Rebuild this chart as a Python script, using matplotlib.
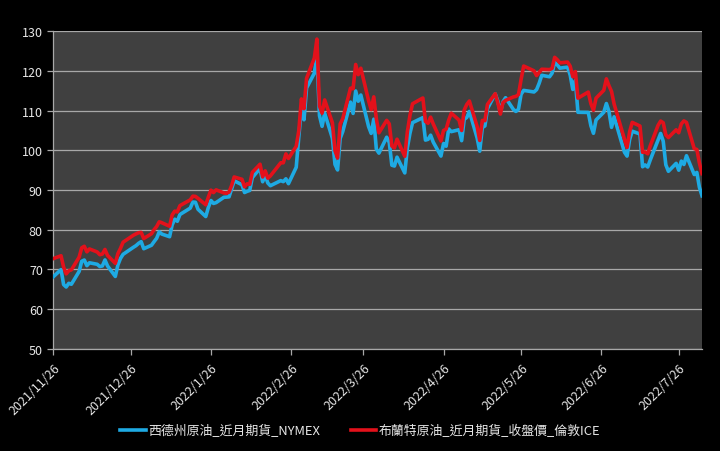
import numpy as np
import pandas as pd
import matplotlib
matplotlib.use("Agg")
import matplotlib.pyplot as plt

plt.rcParams['font.family'] = ['Noto Sans CJK TC', 'DejaVu Sans']

# trading days
dates = [
    "2021-11-26", "2021-11-29", "2021-11-30", "2021-12-01", "2021-12-02", "2021-12-03",
    "2021-12-06", "2021-12-07", "2021-12-08", "2021-12-09", "2021-12-10",
    "2021-12-13", "2021-12-14", "2021-12-15", "2021-12-16", "2021-12-17",
    "2021-12-20", "2021-12-21", "2021-12-22", "2021-12-23",
    "2021-12-27", "2021-12-28", "2021-12-29", "2021-12-30", "2021-12-31",
    "2022-01-03", "2022-01-04", "2022-01-05", "2022-01-06", "2022-01-07",
    "2022-01-10", "2022-01-11", "2022-01-12", "2022-01-13", "2022-01-14",
    "2022-01-18", "2022-01-19", "2022-01-20", "2022-01-21",
    "2022-01-24", "2022-01-25", "2022-01-26", "2022-01-27", "2022-01-28",
    "2022-01-31", "2022-02-01", "2022-02-02", "2022-02-03", "2022-02-04",
    "2022-02-07", "2022-02-08", "2022-02-09", "2022-02-10", "2022-02-11",
    "2022-02-14", "2022-02-15", "2022-02-16", "2022-02-17", "2022-02-18",
    "2022-02-22", "2022-02-23", "2022-02-24", "2022-02-25",
    "2022-02-28", "2022-03-01", "2022-03-02", "2022-03-03", "2022-03-04",
    "2022-03-07", "2022-03-08", "2022-03-09", "2022-03-10", "2022-03-11",
    "2022-03-14", "2022-03-15", "2022-03-16", "2022-03-17", "2022-03-18",
    "2022-03-21", "2022-03-22", "2022-03-23", "2022-03-24", "2022-03-25",
    "2022-03-28", "2022-03-29", "2022-03-30", "2022-03-31", "2022-04-01",
    "2022-04-04", "2022-04-05", "2022-04-06", "2022-04-07", "2022-04-08",
    "2022-04-11", "2022-04-12", "2022-04-13", "2022-04-14",
    "2022-04-18", "2022-04-19", "2022-04-20", "2022-04-21", "2022-04-22",
    "2022-04-25", "2022-04-26", "2022-04-27", "2022-04-28", "2022-04-29",
    "2022-05-02", "2022-05-03", "2022-05-04", "2022-05-05", "2022-05-06",
    "2022-05-09", "2022-05-10", "2022-05-11", "2022-05-12", "2022-05-13",
    "2022-05-16", "2022-05-17", "2022-05-18", "2022-05-19", "2022-05-20",
    "2022-05-23", "2022-05-24", "2022-05-25", "2022-05-26", "2022-05-27",
    "2022-05-31", "2022-06-01", "2022-06-02", "2022-06-03",
    "2022-06-06", "2022-06-07", "2022-06-08", "2022-06-09", "2022-06-10",
    "2022-06-13", "2022-06-14", "2022-06-15", "2022-06-16", "2022-06-17",
    "2022-06-21", "2022-06-22", "2022-06-23", "2022-06-24",
    "2022-06-27", "2022-06-28", "2022-06-29", "2022-06-30", "2022-07-01",
    "2022-07-05", "2022-07-06", "2022-07-07", "2022-07-08",
    "2022-07-11", "2022-07-12", "2022-07-13", "2022-07-14", "2022-07-15",
    "2022-07-18", "2022-07-19", "2022-07-20", "2022-07-21", "2022-07-22",
    "2022-07-25", "2022-07-26", "2022-07-27", "2022-07-28", "2022-07-29",
    "2022-08-01", "2022-08-02", "2022-08-03", "2022-08-04",
]

wti = [
    68.15, 69.95, 66.18, 65.57, 66.50, 66.26,
    69.49, 72.05, 72.36, 70.94, 71.67,
    71.29, 70.73, 70.87, 72.38, 70.86,
    68.23, 71.12, 72.76, 73.79,
    75.57, 75.98, 76.56, 76.99, 75.21,
    76.08, 76.99, 77.85, 79.46, 78.90,
    78.23, 81.22, 82.64, 82.12, 83.82,
    85.43, 86.96, 86.90, 85.14,
    83.31, 85.60, 87.35, 86.61, 86.82,
    88.15, 88.20, 88.26, 90.27, 92.31,
    91.32, 89.36, 89.66, 89.88, 93.10,
    95.46, 92.07, 93.66, 91.76, 91.07,
    92.35, 92.10, 92.81, 91.59,
    95.72, 103.41, 110.60, 107.67, 115.68,
    119.40, 123.70, 108.70, 106.02, 109.33,
    103.01, 96.44, 95.04, 102.98, 104.70,
    112.12, 109.27, 114.93, 112.34, 113.90,
    105.96, 104.24, 107.82, 100.28, 99.27,
    103.28, 101.96, 96.23, 96.03, 98.26,
    94.29, 100.60, 104.25, 106.95,
    108.21, 102.56, 102.75, 103.79, 102.07,
    98.54, 101.70, 101.02, 105.36, 104.69,
    105.17, 102.41, 107.81, 108.26, 109.77,
    103.09, 99.76, 105.71, 106.13, 110.49,
    114.20, 112.40, 109.59, 112.21, 113.23,
    110.29, 109.77, 110.33, 114.09, 115.07,
    114.67, 115.26, 116.87, 118.87,
    118.50, 119.41, 122.11, 121.51, 120.67,
    120.93, 118.93, 115.31, 117.59, 109.56,
    109.52, 106.19, 104.27, 107.62,
    109.57, 111.76, 109.78, 105.76, 108.43,
    99.50, 98.53, 102.73, 104.79,
    104.09, 95.84, 96.30, 95.78, 97.59,
    102.60, 104.22, 102.26, 96.35, 94.70,
    96.70, 94.98, 97.26, 96.42, 98.62,
    93.89, 94.42, 90.66, 88.54,
]

brent = [
    72.72, 73.44, 70.57, 68.87, 69.67, 69.88,
    73.08, 75.44, 75.82, 74.42, 75.15,
    74.39, 73.70, 73.88, 75.02, 73.52,
    71.52, 73.98, 75.29, 76.85,
    78.60, 78.94, 79.23, 79.32, 77.78,
    78.98, 80.00, 80.80, 81.99, 81.75,
    80.87, 83.72, 84.67, 84.47, 86.06,
    87.51, 88.44, 88.38, 87.89,
    86.27, 88.20, 89.96, 89.34, 90.03,
    89.26, 89.16, 89.47, 91.11, 93.27,
    92.69, 90.78, 91.55, 91.41, 94.44,
    96.48, 93.28, 94.81, 92.97, 93.54,
    96.84, 96.84, 99.08, 97.93,
    100.99, 104.97, 112.93, 110.46, 118.11,
    123.21, 127.98, 111.14, 109.33, 112.67,
    106.90, 99.91, 98.02, 106.64, 107.93,
    115.62, 115.48, 121.60, 119.03, 120.65,
    112.48, 110.23, 113.45, 107.91, 104.39,
    107.53, 106.64, 101.07, 100.58, 102.78,
    98.48, 104.64, 108.78, 111.70,
    113.16, 107.25, 106.80, 108.33, 106.65,
    102.32, 104.99, 105.32, 107.59, 109.34,
    107.58, 104.97, 110.14, 111.55, 112.39,
    105.94, 102.46, 107.51, 107.45, 111.55,
    114.24, 111.93, 109.11, 112.04, 112.55,
    113.42, 113.56, 114.03, 117.80, 121.20,
    120.00, 118.80, 119.60, 120.40,
    120.30, 120.60, 123.40, 122.80, 122.01,
    122.20, 121.17, 118.51, 119.81, 113.12,
    114.65, 111.74, 110.05, 113.12,
    115.09, 117.98, 116.26, 114.81, 111.63,
    102.77, 100.69, 104.65, 107.02,
    106.10, 99.49, 99.57, 99.10, 101.16,
    106.27, 107.35, 106.92, 103.86, 103.20,
    105.15, 104.40, 106.62, 107.40, 107.00,
    100.40, 100.20, 96.78, 94.12,
]

tick_dates = ["2021-11-26", "2021-12-26", "2022-01-26", "2022-02-26", "2022-03-26",
              "2022-04-26", "2022-05-26", "2022-06-26", "2022-07-26"]
tick_labels = ["2021/11/26", "2021/12/26", "2022/1/26", "2022/2/26", "2022/3/26",
               "2022/4/26", "2022/5/26", "2022/6/26", "2022/7/26"]

wti_name = "西德州原油_近月期貨_NYMEX"
brent_name = "布蘭特原油_近月期貨_收盤價_倫敦ICE"

d = pd.to_datetime(dates)

fig = plt.figure(figsize=(7.2, 4.52), dpi=100, facecolor="black")
ax = fig.add_axes([0.074, 0.226, 0.901, 0.703])
ax.set_facecolor("#404040")

ax.plot(d, wti, color="#1EAAE3", lw=2.6, label=wti_name, zorder=3)
ax.plot(d, brent, color="#E3111B", lw=2.6, label=brent_name, zorder=4)

ax.set_ylim(50, 130)
ax.set_yticks(range(50, 131, 10))
ax.set_xlim(pd.Timestamp("2021-11-26"), pd.Timestamp("2022-08-04"))
ax.grid(axis="y", color="#A8A8A8", lw=0.9)
ax.set_axisbelow(True)

ax.set_xticks(pd.to_datetime(tick_dates))
ax.set_xticklabels(tick_labels, rotation=45, ha="right", va="top", rotation_mode="anchor")

for s in ["top", "right"]:
    ax.spines[s].set_visible(False)
for s in ["left", "bottom"]:
    ax.spines[s].set_color("#A8A8A8")
    ax.spines[s].set_linewidth(0.9)
ax.tick_params(colors="#A8A8A8", length=4, width=0.9)
ax.tick_params(axis="both", labelcolor="#E6E6E6", labelsize=9)
ax.tick_params(axis="x", pad=5)

leg = fig.legend(loc="center", bbox_to_anchor=(0.5, 0.045), ncol=2, frameon=False,
                 fontsize=9.3, handlelength=2.0, handletextpad=0.15, columnspacing=2.4)
for t in leg.get_texts():
    t.set_color("#E6E6E6")

fig.savefig("out.png", dpi=100, facecolor="black")
